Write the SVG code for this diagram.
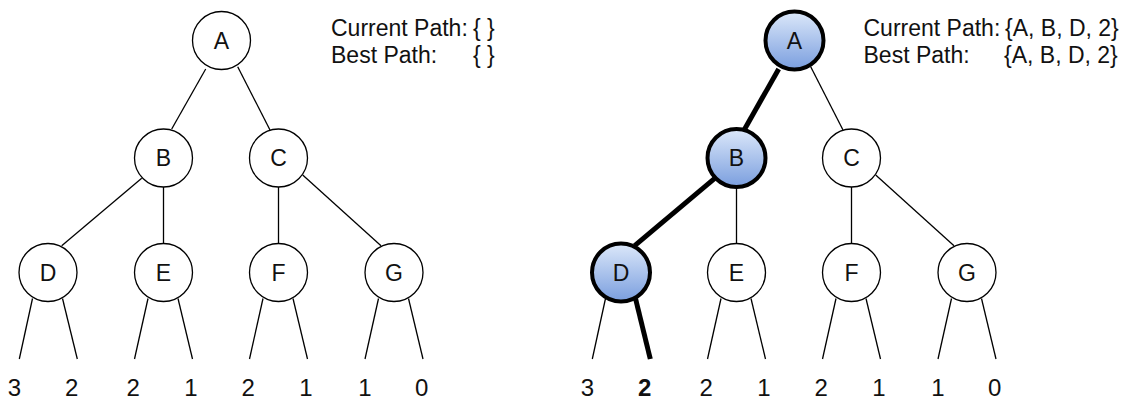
<svg xmlns="http://www.w3.org/2000/svg" width="1129" height="400" viewBox="0 0 1129 400">
<style>
text{font-family:"Liberation Sans",Arial,Helvetica,sans-serif;font-size:23px;fill:#111}
.lbl{text-anchor:middle}
.leaf{font-size:24px}
.n{fill:#fff;stroke:#000;stroke-width:1.3}
.nh{fill:url(#g);stroke:#000;stroke-width:4}
.e{stroke:#000;stroke-width:1.3;fill:none}
.eh{stroke:#000;stroke-width:5;fill:none}
.b{font-weight:bold}
</style>
<defs>
<linearGradient id="g" x1="0" y1="0" x2="0" y2="1">
<stop offset="0" stop-color="#dce8fa"/>
<stop offset="1" stop-color="#7a9ede"/>
</linearGradient>
</defs>
<rect width="1129" height="400" fill="#fff"/>

<!-- LEFT TREE -->
<g id="connectors-left">
<line class="e" x1="205.7" y1="69" x2="171.7" y2="129"/>
<line class="e" x1="237.7" y1="66.7" x2="270" y2="130"/>
<line class="e" x1="141.7" y1="178.3" x2="61.7" y2="245.7"/>
<line class="e" x1="163.5" y1="187" x2="163.5" y2="243.5"/>
<line class="e" x1="278.5" y1="187" x2="278.5" y2="243.5"/>
<line class="e" x1="302.7" y1="175" x2="381" y2="245.7"/>
<line class="e" x1="32.5" y1="298.5" x2="19.3" y2="359"/>
<line class="e" x1="62.5" y1="298.5" x2="77.3" y2="359"/>
<line class="e" x1="148" y1="298.5" x2="134.5" y2="359"/>
<line class="e" x1="178" y1="298.5" x2="192.5" y2="359"/>
<line class="e" x1="263" y1="298.5" x2="249.5" y2="359"/>
<line class="e" x1="293" y1="298.5" x2="307.5" y2="359"/>
<line class="e" x1="378.5" y1="298.5" x2="365" y2="359"/>
<line class="e" x1="408.5" y1="298.5" x2="423" y2="359"/>
</g>
<g id="L-A"><circle class="n" cx="221.5" cy="40.5" r="29"/><text class="lbl" x="221.5" y="48.8">A</text></g>
<g id="L-B"><circle class="n" cx="163.5" cy="158" r="29"/><text class="lbl" x="163.5" y="166.3">B</text></g>
<g id="L-C"><circle class="n" cx="278.5" cy="158" r="29"/><text class="lbl" x="278.5" y="166.3">C</text></g>
<g id="L-D"><circle class="n" cx="48" cy="272.5" r="29"/><text class="lbl" x="48" y="280.8">D</text></g>
<g id="L-E"><circle class="n" cx="163.5" cy="272.5" r="29"/><text class="lbl" x="163.5" y="280.8">E</text></g>
<g id="L-F"><circle class="n" cx="278.5" cy="272.5" r="29"/><text class="lbl" x="278.5" y="280.8">F</text></g>
<g id="L-G"><circle class="n" cx="394" cy="272.5" r="29"/><text class="lbl" x="394" y="280.8">G</text></g>
<g id="L-leaves" class="leaf">
<text class="lbl leaf" x="14.5" y="395.5">3</text>
<text class="lbl leaf" x="71.7" y="395.5">2</text>
<text class="lbl leaf" x="133.3" y="395.5">2</text>
<text class="lbl leaf" x="191" y="395.5">1</text>
<text class="lbl leaf" x="248.3" y="395.5">2</text>
<text class="lbl leaf" x="306" y="395.5">1</text>
<text class="lbl leaf" x="365" y="395.5">1</text>
<text class="lbl leaf" x="421.7" y="395.5">0</text>
</g>
<g id="L-info">
<text x="331" y="36">Current Path:</text><text x="473" y="36">{ }</text>
<text x="331" y="63">Best Path:</text><text x="473" y="63">{ }</text>
</g>

<!-- RIGHT TREE -->
<g id="connectors-right">
<line class="eh" x1="778.7" y1="69" x2="744.7" y2="129"/>
<line class="e" x1="810.7" y1="66.7" x2="843" y2="130"/>
<line class="eh" x1="714.7" y1="178.3" x2="634.7" y2="245.7"/>
<line class="e" x1="736.5" y1="187" x2="736.5" y2="243.5"/>
<line class="e" x1="851.5" y1="187" x2="851.5" y2="243.5"/>
<line class="e" x1="875.7" y1="175" x2="954" y2="245.7"/>
<line class="e" x1="605.5" y1="298.5" x2="592.3" y2="359"/>
<line class="eh" x1="635.5" y1="298.5" x2="650.3" y2="359"/>
<line class="e" x1="721" y1="298.5" x2="707.5" y2="359"/>
<line class="e" x1="751" y1="298.5" x2="765.5" y2="359"/>
<line class="e" x1="836" y1="298.5" x2="822.5" y2="359"/>
<line class="e" x1="866" y1="298.5" x2="880.5" y2="359"/>
<line class="e" x1="951.5" y1="298.5" x2="938" y2="359"/>
<line class="e" x1="981.5" y1="298.5" x2="996" y2="359"/>
</g>
<g id="R-A"><circle class="nh" cx="794.5" cy="40.5" r="29"/><text class="lbl" x="794.5" y="48.8">A</text></g>
<g id="R-B"><circle class="nh" cx="736.5" cy="158" r="29"/><text class="lbl" x="736.5" y="166.3">B</text></g>
<g id="R-C"><circle class="n" cx="851.5" cy="158" r="29"/><text class="lbl" x="851.5" y="166.3">C</text></g>
<g id="R-D"><circle class="nh" cx="621" cy="272.5" r="29"/><text class="lbl" x="621" y="280.8">D</text></g>
<g id="R-E"><circle class="n" cx="736.5" cy="272.5" r="29"/><text class="lbl" x="736.5" y="280.8">E</text></g>
<g id="R-F"><circle class="n" cx="851.5" cy="272.5" r="29"/><text class="lbl" x="851.5" y="280.8">F</text></g>
<g id="R-G"><circle class="n" cx="967" cy="272.5" r="29"/><text class="lbl" x="967" y="280.8">G</text></g>
<g id="R-leaves">
<text class="lbl leaf" x="587.5" y="395.5">3</text>
<text class="lbl leaf b" x="644.7" y="395.5">2</text>
<text class="lbl leaf" x="706.3" y="395.5">2</text>
<text class="lbl leaf" x="764" y="395.5">1</text>
<text class="lbl leaf" x="821.3" y="395.5">2</text>
<text class="lbl leaf" x="879" y="395.5">1</text>
<text class="lbl leaf" x="938" y="395.5">1</text>
<text class="lbl leaf" x="994.7" y="395.5">0</text>
</g>
<g id="R-info">
<text x="863.5" y="36">Current Path:</text><text x="1005" y="36">{A, B, D, 2}</text>
<text x="863.5" y="63">Best Path:</text><text x="1004" y="63">{A, B, D, 2}</text>
</g>
</svg>
